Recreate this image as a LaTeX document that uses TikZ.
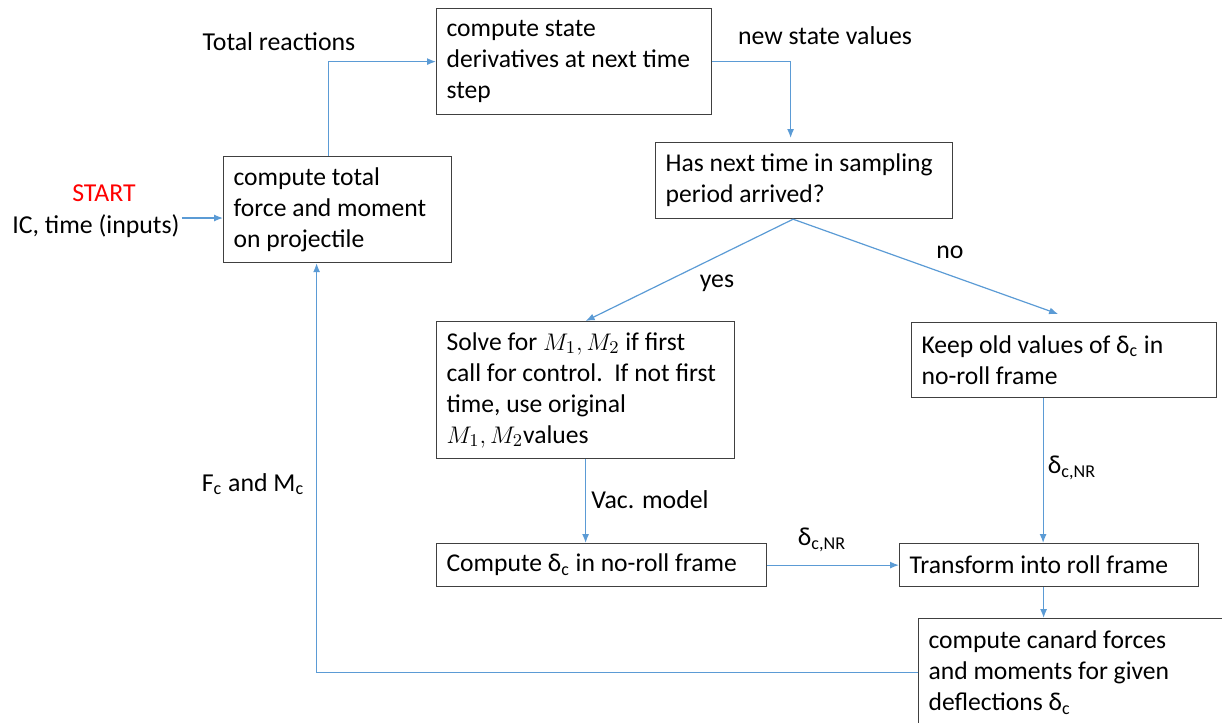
\documentclass[tikz,border=0pt]{standalone}
\usepackage{fontspec}
\setmainfont{Carlito}
\usepackage{xcolor}
\usetikzlibrary{arrows.meta,positioning}
\definecolor{lineblue}{RGB}{91,155,213}
\newcommand{\blkspacing}{\spaceskip=0.226em plus 0.1em minus 0.06em\relax\hyphenpenalty=10000\relax}

\begin{document}
\begin{tikzpicture}[x=0.5pt,y=-0.5pt,
  blk/.style={draw=black!75, line width=0.6pt, rectangle, anchor=north west, align=left, inner xsep=5pt, inner ysep=0pt,
    font=\fontsize{12.8}{15.5}\selectfont, execute at begin node=\blkspacing},
  lbl/.style={font=\fontsize{12.9}{15.5}\selectfont, inner sep=1pt},
  arr/.style={draw=lineblue, line width=0.6pt, -{Latex[length=4.5pt,width=3.5pt]}}
]
\useasboundingbox (0,0) rectangle (1222,723);
\clip (0,0) rectangle (1222,723);

% Boxes
\node[blk, text width=104pt, minimum height=53pt] (force) at (223,156) {compute total\\force and moment\\on projectile};
\node[blk, text width=127.5pt, minimum height=53pt] (derivs) at (436,8) {compute state\\derivatives at next time\\step};
\node[blk, text width=138.5pt, minimum height=38pt] (samp) at (655,142) {Has next time in sampling\\period arrived?};
\node[blk, text width=139pt, minimum height=68.5pt] (solve) at (436,321) {Solve for $M_1, M_2$ if first\\call for control.\ \ If not first\\time, use original\\$M_1, M_2$values};
\node[blk, text width=142.5pt, minimum height=37.5pt] (keep) at (911,322) {Keep old values of δ\textsubscript{c} in\\no-roll frame};
\node[blk, text width=155pt, minimum height=21.5pt] (cdelta) at (436,543) {Compute δ\textsubscript{c} in no-roll frame};
\node[blk, text width=139.5pt, minimum height=21.5pt] (trans) at (899,543) {Transform into roll frame};
\node[blk, text width=150pt, minimum height=54pt] (canard) at (918,618) {compute canard forces\\and moments for given\\deflections δ\textsubscript{c}};

% Labels
\node[lbl, text=red] (start) at (104,193) {START};
\node[lbl] (ic) at (96,226) {IC, time (inputs)};
\node[lbl] (totreac) at (279,42) {Total reactions};
\node[lbl] (newstate) at (825,36) {new state values};
\node[lbl] (yes) at (717,283) {yes};
\node[lbl] (no) at (950,252) {no};
\node[lbl] (vac) at (650,500) {Vac. model};
\node[lbl] (dnr1) at (822,540) {δ\textsubscript{c,NR}};
\node[lbl] (dnr2) at (1072,468) {δ\textsubscript{c,NR}};
\node[lbl] (fcmc) at (253,484) {F\textsubscript{c} and M\textsubscript{c}};

% Arrows
\draw[arr] ([yshift=4pt]ic.east) -- ([yshift=4pt]ic.east -| force.west);
\draw[arr] ([xshift=-4.5pt]force.north) |- (derivs.west);
\draw[arr, shorten >=2pt] (derivs.east) -| ([xshift=-6.75pt]samp.north);
\draw[arr] ([xshift=-5.5pt]samp.south) -- (solve.north);
\draw[arr] ([xshift=-5.5pt]samp.south) -- ([shift={(-3pt,4pt)}]keep.north);
\draw[arr] (solve.south) -- (solve.south |- cdelta.north);
\draw[arr] (cdelta.east) -- (trans.west);
\draw[arr] ([xshift=-10.5pt]keep.south) -- ([xshift=-10.5pt]keep.south |- trans.north);
\draw[arr] ([xshift=-2.75pt]trans.south) -- ([xshift=-2.75pt]trans.south |- canard.north);
\draw[arr] (canard.west) -| ([xshift=-10.5pt]force.south);

\end{tikzpicture}
\end{document}
